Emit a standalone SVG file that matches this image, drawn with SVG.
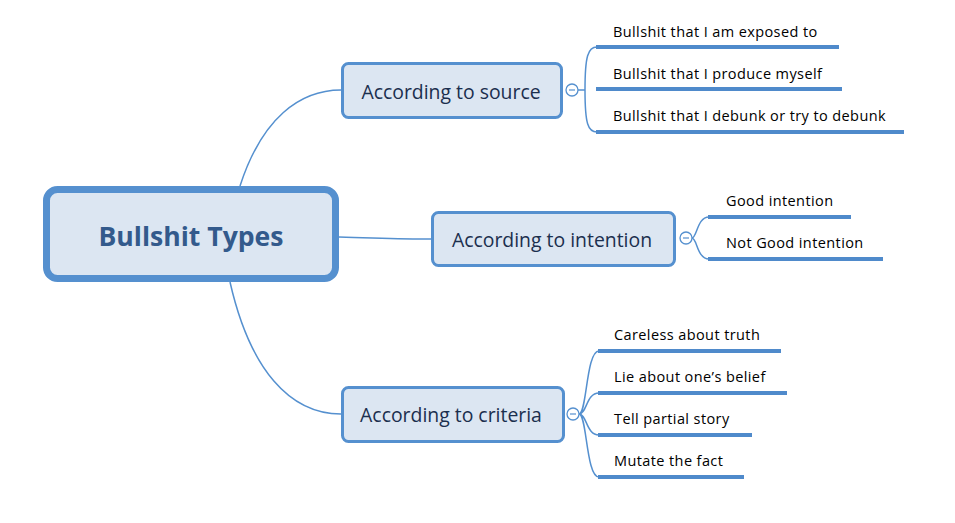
<svg xmlns="http://www.w3.org/2000/svg" width="955" height="523" viewBox="0 0 955 523">
<style>
.conn{fill:none;stroke:#5590cf;stroke-width:1.5}
.under{stroke:#4f8acb;stroke-width:4}
.topic{fill:#dce6f2;stroke:#5590cf;stroke-width:3}
.ttext{font-family:"Open Sans",sans-serif;font-size:19.4px;fill:#1b2f4e;text-anchor:middle}
.ctext{font-family:"Open Sans",sans-serif;font-size:14.5px;letter-spacing:0.4px;fill:#000}
.coll{fill:#fff;stroke:#5590cf;stroke-width:1.3}
.minus{stroke:#5590cf;stroke-width:1.2}
</style>
<rect width="955" height="523" fill="#fff"/>
<g id="connectors">
<path class="conn" d="M240,186 C262,118 300,90 341,90"/>
<path class="conn" d="M339,237 C380,238 400,239 431,239"/>
<path class="conn" d="M230,282 C250,370 290,414 341,414"/>
<path class="conn" d="M578,90 H585 M585,90 C585,56 588,47 597,47 M585,90 C585,124 588,132 597,132"/>
<path class="conn" d="M692,238 C697,238 697,217 709,217 M692,238 C697,238 697,259 709,259"/>
<path class="conn" d="M579,414 C587,414 586,351 599,351 M579,414 C587,414 586,393 599,393 M579,414 C587,414 586,435 599,435 M579,414 C587,414 586,477 599,477"/>
</g>
<g id="central">
<rect x="46.5" y="189.5" width="289" height="89" rx="11" fill="#dce6f2" stroke="#5590cf" stroke-width="7"/>
<text x="191" y="246" font-family="'Open Sans',sans-serif" font-size="26.6" font-weight="bold" fill="#335a8c" text-anchor="middle">Bullshit Types</text>
</g>
<g id="source">
<rect class="topic" x="342.5" y="63.5" width="219" height="54" rx="6"/>
<text class="ttext" x="451" y="99">According to source</text>
<circle class="coll" cx="572" cy="90" r="6"/>
<line class="minus" x1="569" y1="90" x2="575" y2="90"/>
</g>
<g id="intention">
<rect class="topic" x="432.5" y="212.5" width="242" height="53" rx="6"/>
<text class="ttext" x="552" y="247">According to intention</text>
<circle class="coll" cx="686" cy="238" r="6"/>
<line class="minus" x1="683" y1="238" x2="689" y2="238"/>
</g>
<g id="criteria">
<rect class="topic" x="342.5" y="387.5" width="221" height="54" rx="6"/>
<text class="ttext" x="451" y="422">According to criteria</text>
<circle class="coll" cx="573" cy="414" r="6"/>
<line class="minus" x1="570" y1="414" x2="576" y2="414"/>
</g>
<g id="s1"><text class="ctext" x="613" y="37">Bullshit that I am exposed to</text><line class="under" x1="596" y1="47" x2="839" y2="47"/></g>
<g id="s2"><text class="ctext" x="613" y="79">Bullshit that I produce myself</text><line class="under" x1="596" y1="89" x2="842" y2="89"/></g>
<g id="s3"><text class="ctext" x="613" y="121">Bullshit that I debunk or try to debunk</text><line class="under" x1="596" y1="132" x2="904" y2="132"/></g>
<g id="i1"><text class="ctext" x="726" y="206">Good intention</text><line class="under" x1="708" y1="217" x2="851" y2="217"/></g>
<g id="i2"><text class="ctext" x="726" y="248">Not Good intention</text><line class="under" x1="708" y1="259" x2="883" y2="259"/></g>
<g id="c1"><text class="ctext" x="614" y="340">Careless about truth</text><line class="under" x1="598" y1="351" x2="781" y2="351"/></g>
<g id="c2"><text class="ctext" x="614" y="382">Lie about one’s belief</text><line class="under" x1="598" y1="393" x2="787" y2="393"/></g>
<g id="c3"><text class="ctext" x="614" y="424">Tell partial story</text><line class="under" x1="598" y1="435" x2="752" y2="435"/></g>
<g id="c4"><text class="ctext" x="614" y="466">Mutate the fact</text><line class="under" x1="598" y1="477" x2="744" y2="477"/></g>
</svg>
